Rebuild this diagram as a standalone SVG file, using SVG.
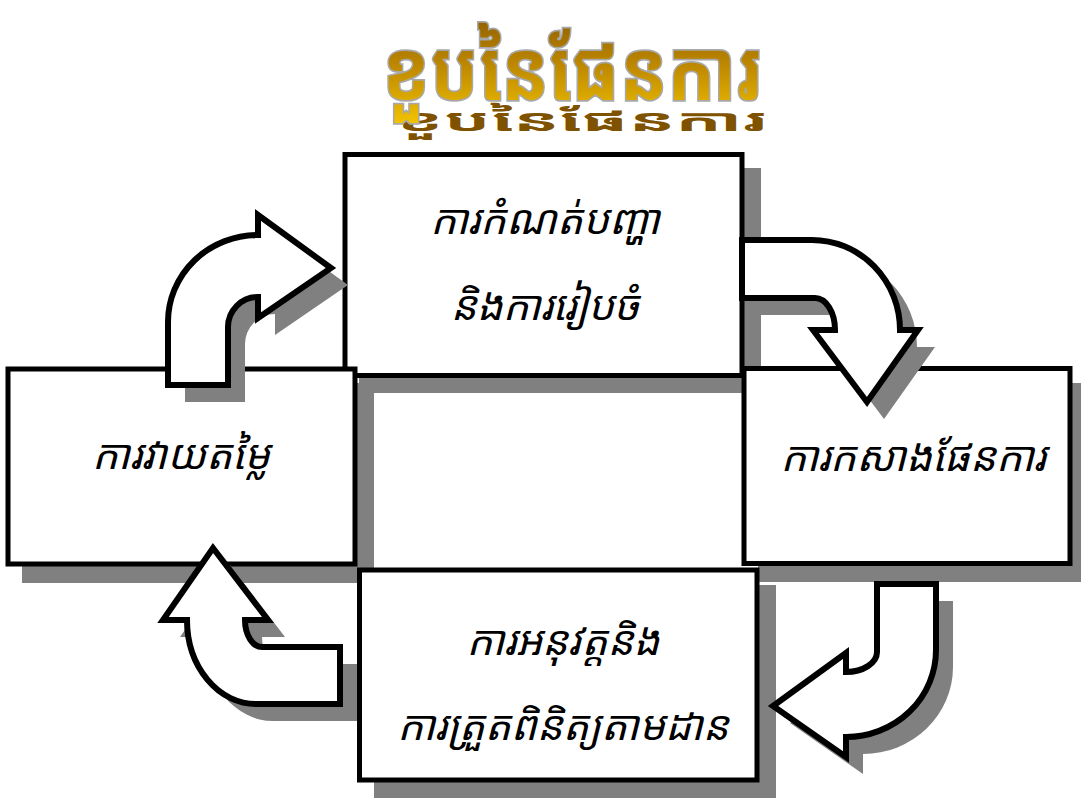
<svg xmlns="http://www.w3.org/2000/svg" width="1081" height="798" viewBox="0 0 1081 798">
<defs>
<linearGradient id="gold" x1="0" y1="0" x2="0" y2="1">
<stop offset="0" stop-color="#8a5a00"/>
<stop offset="0.5" stop-color="#c08a00"/>
<stop offset="1" stop-color="#f2c400"/>
</linearGradient>
<style>
.shadow{fill:#808080;stroke:none}
.box{fill:#fff;stroke:#000;stroke-width:5}
.arrow{fill:#fff;stroke:#000;stroke-width:6;stroke-linejoin:miter}
.lbl{font-family:"Noto Sans Khmer","Khmer OS","Noto Serif Khmer","Noto Sans","DejaVu Sans",sans-serif;font-size:41px;font-style:italic;fill:#000;text-anchor:middle}
.title{font-family:"Noto Sans Khmer","Khmer OS","Noto Serif Khmer","Noto Sans","DejaVu Sans",sans-serif;font-size:84px;font-weight:bold;text-anchor:middle}
</style>
</defs>
<rect width="1081" height="798" fill="#fff"/>

<g id="title">
<text class="title" x="0" y="0" fill="#7f5200" transform="translate(582,131) scale(0.82,0.36)">ខួបនៃផែនការ</text>
<text class="title" x="0" y="0" fill="url(#gold)" stroke="#a8a8a8" stroke-width="3.5" paint-order="stroke" transform="translate(572,100) scale(0.84,1)">ខួបនៃផែនការ</text>
</g>

<g id="box-shadows">
<rect class="shadow" x="359" y="168" width="402" height="225"/>
<rect class="shadow" x="22" y="383" width="352" height="200"/>
<rect class="shadow" x="758" y="383" width="331" height="199"/>
<rect class="shadow" x="374" y="585" width="402" height="214"/>
</g>

<g id="node-plan-problem">
<rect class="box" x="345" y="154.5" width="397" height="221"/>
<text class="lbl" x="545" y="234">ការកំណត់បញ្ហា</text>
<text class="lbl" x="545" y="320">និងការរៀបចំ</text>
</g>
<g id="node-evaluate">
<rect class="box" x="8" y="369" width="347" height="195"/>
<text class="lbl" x="181" y="469">ការវាយតម្លៃ</text>
</g>
<g id="node-build-plan">
<rect class="box" x="744" y="368.5" width="326" height="195"/>
<text class="lbl" x="913" y="471">ការកសាងផែនការ</text>
</g>
<g id="node-implement">
<rect class="box" x="359.5" y="570" width="397.5" height="210"/>
<text class="lbl" x="563" y="655">ការអនុវត្តនិង</text>
<text class="lbl" x="563" y="740">ការត្រួតពិនិត្យតាមដាន</text>
</g>

<g id="connectors">
<path class="shadow" transform="translate(17,17)" d="M 168 385 L 168 322 A 90 87 0 0 1 258 235 L 258 215 L 331 268 L 258 318 L 258 297 A 30 30 0 0 0 228 327 L 228 385 Z"/>
<path class="arrow" d="M 168 385 L 168 322 A 90 87 0 0 1 258 235 L 258 215 L 331 268 L 258 318 L 258 297 A 30 30 0 0 0 228 327 L 228 385 Z"/>
<path class="shadow" transform="translate(17,17)" d="M 742 240 L 812 240 A 88 90 0 0 1 900 330 L 918 330 L 867 402 L 813 330 L 835 330 A 20 32 0 0 0 815 298 L 742 298 Z"/>
<path class="arrow" d="M 742 240 L 812 240 A 88 90 0 0 1 900 330 L 918 330 L 867 402 L 813 330 L 835 330 A 20 32 0 0 0 815 298 L 742 298 Z"/>
<path class="shadow" transform="translate(17,17)" d="M 877 584 L 936 584 L 936 650 A 90 87 0 0 1 846 737 L 846 757 L 773 706 L 846 653 L 846 672 A 31 20 0 0 0 877 652 Z"/>
<path class="arrow" d="M 877 584 L 936 584 L 936 650 A 90 87 0 0 1 846 737 L 846 757 L 773 706 L 846 653 L 846 672 A 31 20 0 0 0 877 652 Z"/>
<path class="shadow" transform="translate(17,17)" d="M 340 647 L 340 704 L 256 704 A 69 84 0 0 1 187 620 L 163 620 L 213 548 L 268 620 L 245 620 A 17 27 0 0 0 262 647 Z"/>
<path class="arrow" d="M 340 647 L 340 704 L 256 704 A 69 84 0 0 1 187 620 L 163 620 L 213 548 L 268 620 L 245 620 A 17 27 0 0 0 262 647 Z"/>
</g>
</svg>
